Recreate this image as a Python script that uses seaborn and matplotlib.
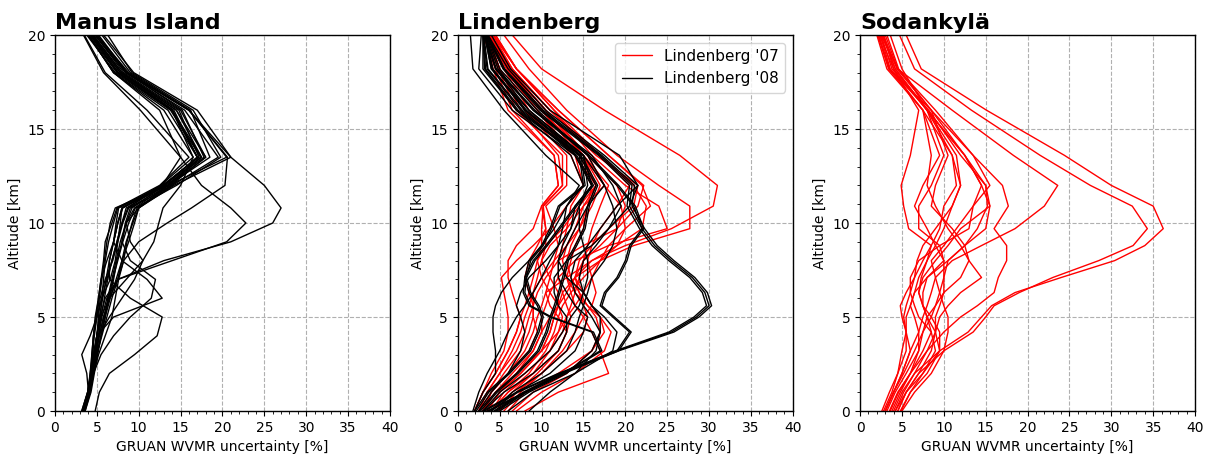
import matplotlib
matplotlib.use("Agg")
import matplotlib.pyplot as plt
import pandas as pd
import seaborn as sns
from matplotlib.ticker import MultipleLocator
from matplotlib.lines import Line2D

# ---------------------------------------------------------------------------
# Altitude levels [km] at which each uncertainty profile is given
# ---------------------------------------------------------------------------
alt_manus = [0, 1, 2, 3, 4, 5, 6, 7, 8, 9, 10, 10.8, 12, 13.5, 16, 18, 20]
alt_std = [0, 1, 2, 3.2, 4.2, 5, 5.6, 6.3, 7.1, 8, 8.8, 9.7, 10.9, 12, 13.6, 16, 18.2, 20]

# GRUAN water-vapour mixing-ratio uncertainty [%] per sounding
manus_profiles = [
    [3.2, 3.9, 4.2, 4.5, 4.6, 4.8, 5.2, 5.5, 5.8, 6.0, 6.8, 7.4, 12.5, 16.0, 11.0, 6.0, 3.5],
    [3.3, 4.0, 4.5, 5.0, 5.5, 6.0, 6.3, 6.8, 7.3, 7.8, 8.5, 9.2, 13.0, 17.0, 13.5, 7.0, 4.0],
    [3.4, 4.1, 4.3, 4.4, 4.6, 5.0, 5.6, 6.6, 7.2, 7.5, 7.8, 8.0, 13.5, 17.5, 14.0, 7.5, 4.2],
    [3.5, 4.1, 4.6, 5.2, 6.0, 6.8, 7.2, 7.6, 8.2, 8.6, 9.2, 9.8, 13.8, 18.0, 14.5, 7.8, 4.4],
    [3.3, 4.0, 4.2, 4.4, 4.6, 4.9, 5.2, 5.5, 6.2, 7.0, 7.3, 7.6, 12.8, 17.2, 14.8, 8.0, 4.6],
    [3.6, 4.2, 4.5, 4.8, 5.3, 5.8, 6.5, 7.0, 7.4, 8.0, 8.4, 9.0, 14.0, 19.5, 15.5, 8.4, 4.8],
    [3.4, 4.1, 4.4, 4.8, 5.0, 5.2, 5.4, 6.0, 6.9, 7.5, 8.1, 8.8, 13.6, 20.5, 16.0, 8.8, 5.0],
    [3.5, 4.2, 4.6, 5.0, 5.6, 6.2, 6.8, 7.5, 8.0, 8.5, 9.3, 10.0, 14.2, 21.0, 17.0, 9.4, 5.8],
    [3.3, 4.0, 4.4, 4.7, 5.0, 5.4, 5.6, 5.8, 6.0, 6.4, 7.0, 7.5, 13.2, 17.8, 15.2, 8.6, 5.2],
    [3.4, 4.1, 4.5, 5.0, 5.5, 6.0, 6.6, 7.3, 8.0, 8.8, 9.5, 10.0, 13.5, 18.5, 16.2, 9.0, 5.6],
    [3.2, 3.9, 4.3, 4.6, 5.0, 5.3, 5.7, 6.1, 6.5, 7.0, 7.5, 8.1, 12.6, 16.5, 14.0, 7.6, 4.3],
    [3.6, 4.3, 4.7, 5.1, 5.5, 5.9, 6.4, 6.9, 7.5, 8.1, 8.8, 9.6, 14.5, 19.8, 16.5, 9.2, 6.3],
    [3.3, 4.0, 4.3, 4.5, 4.7, 5.0, 5.3, 5.6, 5.9, 6.2, 6.6, 7.2, 13.4, 17.4, 13.8, 7.2, 3.8],
    [3.5, 4.2, 4.5, 4.8, 5.2, 5.5, 5.9, 6.3, 6.8, 7.4, 8.0, 8.7, 12.8, 15.0, 10.2, 5.8, 3.4],
    [3.3, 4.0, 4.4, 4.7, 5.0, 5.4, 6.0, 7.5, 13.0, 21.0, 26.0, 27.0, 25.0, 21.0, 16.0, 8.5, 4.8],
    [3.4, 4.1, 4.5, 4.9, 5.2, 5.6, 6.2, 7.5, 14.0, 20.5, 22.8, 21.0, 17.5, 15.0, 12.5, 7.0, 4.0],
    [3.4, 4.0, 4.4, 4.7, 5.0, 5.5, 6.5, 7.5, 8.2, 10.0, 13.4, 16.3, 20.3, 20.6, 16.0, 8.6, 5.0],
    [3.5, 4.1, 4.5, 4.9, 5.3, 5.8, 6.5, 8.5, 10.5, 11.8, 12.4, 12.9, 15.0, 16.5, 13.0, 7.0, 4.0],
    [3.3, 4.0, 4.3, 4.6, 5.0, 7.0, 12.8, 11.0, 8.0, 7.0, 7.5, 8.0, 13.0, 17.0, 14.0, 7.5, 4.2],
    [4.8, 5.3, 6.5, 9.5, 12.2, 12.8, 9.0, 6.5, 6.5, 7.0, 7.5, 8.0, 13.0, 17.5, 14.5, 8.0, 4.5],
    [3.5, 4.0, 3.8, 3.2, 4.2, 5.0, 5.6, 6.2, 6.8, 7.4, 8.0, 8.5, 13.0, 17.0, 14.0, 7.4, 4.0],
    [3.4, 4.1, 4.6, 5.5, 7.0, 9.0, 11.5, 12.0, 9.0, 8.0, 8.5, 9.5, 13.5, 18.0, 15.0, 8.2, 4.8],
    [3.3, 3.9, 4.3, 4.7, 5.2, 6.5, 8.0, 9.5, 10.5, 9.0, 8.5, 10.0, 14.0, 17.0, 14.2, 7.8, 4.4],
]

lind07_profiles = [
    [4.0, 6.0, 9.0, 12.0, 13.0, 12.0, 11.0, 10.5, 13.0, 16.0, 20.0, 25.5, 30.5, 31.0, 26.5, 17.5, 10.0, 6.5],
    [3.5, 5.0, 7.5, 10.0, 11.0, 11.5, 12.0, 12.5, 14.0, 17.0, 21.0, 27.7, 27.7, 24.0, 19.0, 13.0, 8.5, 5.5],
    [3.0, 4.5, 6.5, 9.0, 10.0, 10.0, 10.5, 11.0, 12.0, 14.0, 18.0, 25.0, 24.0, 20.0, 16.0, 11.5, 7.0, 4.5],
    [2.5, 4.0, 6.0, 8.5, 9.5, 9.0, 9.0, 9.5, 10.5, 12.0, 15.0, 19.0, 21.5, 22.2, 18.0, 12.0, 7.0, 4.2],
    [3.0, 4.5, 7.0, 10.0, 11.0, 11.5, 12.0, 13.0, 14.0, 16.0, 19.0, 22.0, 22.5, 21.0, 17.0, 11.0, 6.5, 4.0],
    [2.0, 3.0, 4.5, 6.0, 7.0, 7.5, 8.0, 8.5, 9.0, 9.5, 10.0, 10.0, 10.2, 12.5, 12.0, 7.5, 5.0, 3.5],
    [2.5, 3.5, 5.0, 7.0, 8.0, 8.5, 9.0, 9.0, 9.5, 10.0, 10.5, 10.5, 10.0, 12.0, 11.5, 6.5, 4.5, 3.0],
    [3.0, 4.0, 6.0, 8.0, 9.0, 9.5, 10.0, 10.5, 11.0, 11.5, 12.0, 11.5, 10.5, 13.0, 13.0, 8.0, 5.0, 3.5],
    [4.0, 5.5, 8.0, 11.0, 12.5, 13.0, 13.5, 14.0, 14.5, 15.0, 15.5, 16.0, 17.0, 18.0, 15.0, 10.0, 6.0, 3.8],
    [5.0, 7.0, 10.0, 13.0, 15.0, 15.5, 15.0, 14.5, 14.0, 15.0, 17.0, 19.0, 20.0, 19.0, 15.5, 10.5, 6.2, 4.0],
    [6.0, 8.0, 12.0, 16.0, 17.5, 17.0, 16.0, 15.0, 14.0, 14.5, 16.0, 18.0, 21.0, 21.5, 16.5, 11.0, 6.5, 4.2],
    [2.0, 3.0, 4.0, 5.5, 6.0, 6.0, 5.8, 5.5, 5.2, 7.0, 9.0, 11.0, 13.0, 15.0, 14.0, 8.5, 5.5, 3.8],
    [7.0, 10.0, 14.0, 17.5, 18.3, 17.0, 15.5, 14.0, 13.0, 13.5, 14.0, 15.0, 15.5, 16.0, 14.0, 9.5, 5.5, 3.5],
    [8.0, 12.0, 18.0, 17.0, 16.0, 15.0, 14.0, 13.5, 13.0, 12.5, 13.0, 14.0, 15.0, 16.5, 14.5, 10.0, 5.8, 3.6],
    [3.5, 5.0, 7.0, 9.0, 10.0, 11.0, 12.0, 12.0, 11.0, 10.0, 11.0, 13.0, 15.0, 17.5, 15.5, 10.5, 6.0, 3.7],
    [4.5, 6.5, 9.0, 11.0, 12.0, 12.5, 12.0, 11.0, 10.0, 9.5, 10.5, 12.5, 14.5, 16.5, 15.0, 10.0, 6.0, 3.6],
    [5.5, 7.5, 10.0, 12.5, 14.0, 15.0, 16.0, 16.5, 16.0, 15.5, 16.0, 17.0, 19.0, 20.5, 17.0, 11.5, 7.0, 4.3],
    [2.5, 3.5, 5.0, 6.5, 7.5, 8.0, 8.5, 9.0, 10.0, 11.5, 13.0, 14.5, 15.5, 16.5, 14.0, 8.0, 5.0, 3.5],
    [3.0, 4.0, 5.5, 7.5, 8.5, 9.0, 9.0, 8.5, 8.0, 8.5, 9.5, 10.5, 10.2, 12.5, 12.5, 7.0, 4.8, 3.3],
    [4.0, 6.0, 8.5, 10.5, 11.5, 12.0, 12.5, 13.5, 15.0, 17.0, 19.0, 20.0, 23.0, 22.0, 18.0, 12.0, 7.0, 4.5],
    [6.5, 9.0, 13.0, 16.0, 17.0, 16.5, 15.5, 14.5, 13.5, 13.0, 13.5, 14.5, 16.0, 17.0, 15.0, 10.0, 6.0, 3.8],
    [2.0, 3.0, 4.5, 6.0, 7.0, 7.5, 7.0, 6.5, 6.0, 6.0, 7.0, 9.0, 10.0, 12.0, 11.5, 6.0, 4.2, 3.2],
    [3.5, 5.0, 7.5, 10.0, 12.0, 13.0, 14.0, 15.0, 16.0, 17.0, 18.0, 20.0, 19.5, 17.5, 15.0, 10.5, 6.2, 3.9],
    [5.0, 7.0, 9.5, 12.0, 13.0, 13.5, 13.0, 12.5, 12.0, 12.0, 12.5, 13.0, 13.5, 15.0, 13.5, 9.5, 5.5, 3.4],
]

lind08_profiles = [
    [4.5, 8.0, 12.5, 19.0, 25.5, 28.5, 30.0, 29.5, 28.0, 25.5, 23.5, 22.0, 20.5, 20.8, 17.0, 10.0, 5.5, 3.5],
    [4.3, 7.8, 12.3, 18.8, 25.2, 28.2, 29.7, 29.2, 27.7, 25.2, 23.2, 21.7, 20.2, 20.5, 16.8, 9.8, 5.4, 3.4],
    [4.7, 8.2, 12.7, 19.2, 25.8, 28.8, 30.3, 29.8, 28.3, 25.8, 23.8, 22.3, 20.8, 21.1, 17.2, 10.2, 5.6, 3.6],
    [3.0, 7.0, 12.0, 19.0, 20.5, 18.5, 17.0, 17.5, 19.0, 20.0, 20.5, 22.0, 21.0, 19.0, 15.5, 9.0, 4.5, 3.2],
    [3.2, 7.2, 12.2, 19.2, 20.7, 18.7, 17.2, 17.7, 19.2, 20.2, 20.7, 22.2, 21.2, 19.2, 15.7, 9.2, 4.6, 3.3],
    [3.5, 8.0, 12.5, 17.0, 16.0, 11.0, 8.5, 7.8, 8.0, 9.0, 10.5, 12.0, 14.0, 16.0, 14.0, 7.5, 3.5, 3.0],
    [3.7, 8.2, 12.7, 17.2, 16.2, 11.2, 8.7, 8.0, 8.2, 9.2, 10.7, 12.2, 14.2, 16.2, 14.2, 7.7, 3.6, 3.1],
    [2.0, 3.0, 4.5, 4.5, 4.2, 4.2, 4.5, 5.2, 6.5, 8.5, 10.0, 11.5, 13.0, 15.0, 13.5, 7.0, 3.0, 3.0],
    [2.5, 4.5, 7.0, 9.5, 10.5, 11.0, 11.5, 12.0, 12.5, 13.0, 14.0, 15.0, 15.5, 16.5, 14.5, 8.0, 4.0, 3.2],
    [2.7, 4.7, 7.2, 9.7, 10.7, 11.2, 11.7, 12.2, 12.7, 13.2, 14.2, 15.2, 15.7, 16.7, 14.7, 8.2, 4.1, 3.3],
    [3.0, 5.0, 8.0, 11.0, 12.5, 13.5, 14.5, 15.0, 15.5, 15.5, 15.0, 14.5, 14.5, 15.5, 15.0, 8.5, 4.5, 3.3],
    [2.0, 3.5, 6.0, 8.5, 9.5, 10.0, 9.5, 8.5, 8.0, 8.5, 10.0, 11.0, 12.0, 15.0, 14.5, 7.0, 3.2, 3.0],
    [2.2, 3.7, 6.2, 8.7, 9.7, 10.2, 9.7, 8.7, 8.2, 8.7, 10.2, 11.2, 12.2, 15.2, 14.7, 7.2, 3.3, 3.1],
    [4.0, 7.0, 11.0, 14.0, 15.0, 15.5, 14.0, 13.0, 12.0, 12.0, 13.0, 14.0, 15.5, 17.5, 15.5, 9.5, 5.0, 3.5],
    [2.5, 4.0, 6.0, 7.5, 8.0, 7.5, 7.0, 7.5, 8.5, 10.5, 12.0, 13.5, 14.0, 16.0, 15.0, 8.0, 4.2, 3.3],
    [5.0, 8.5, 13.0, 16.0, 17.0, 17.0, 16.0, 15.0, 13.0, 12.0, 12.5, 13.5, 14.5, 16.0, 14.0, 6.5, 2.5, 2.8],
    [3.0, 5.5, 9.0, 12.0, 13.0, 13.0, 12.0, 11.5, 11.5, 13.0, 16.0, 18.0, 20.5, 21.5, 17.5, 10.5, 6.0, 3.6],
    [6.0, 9.0, 14.0, 18.5, 19.0, 17.5, 16.0, 15.0, 14.5, 15.0, 16.5, 18.0, 19.5, 18.5, 16.0, 9.0, 4.8, 3.4],
    [1.8, 2.5, 3.5, 5.0, 6.0, 7.0, 8.0, 9.0, 10.0, 11.0, 12.0, 12.5, 13.0, 14.5, 10.5, 5.5, 1.8, 1.5],
    [4.0, 6.5, 10.0, 13.0, 14.0, 14.5, 15.0, 15.5, 16.0, 17.5, 18.5, 19.0, 18.5, 17.5, 15.0, 8.5, 4.0, 3.2],
    [8.5, 11.0, 14.0, 16.5, 17.0, 16.0, 15.0, 14.0, 13.5, 14.0, 15.5, 17.0, 19.0, 21.5, 19.3, 11.0, 6.3, 4.0],
]

sod_profiles = [
    [4.9, 6.0, 7.5, 9.5, 12.9, 14.5, 15.7, 18.5, 24.0, 30.4, 34.0, 36.2, 35.0, 30.0, 24.4, 15.1, 7.3, 5.5],
    [4.5, 5.5, 7.0, 10.0, 13.5, 15.0, 16.0, 19.0, 23.0, 28.5, 32.6, 34.3, 32.5, 27.5, 21.5, 13.3, 6.5, 4.7],
    [3.0, 4.0, 5.0, 6.0, 7.0, 7.5, 8.0, 8.5, 9.0, 11.0, 14.5, 18.5, 22.0, 23.6, 18.3, 11.0, 4.5, 2.5],
    [3.5, 4.5, 6.0, 8.0, 10.0, 12.0, 14.0, 16.0, 16.5, 17.5, 17.5, 16.0, 17.7, 17.0, 13.5, 8.5, 3.5, 2.2],
    [4.0, 5.0, 6.5, 9.5, 9.5, 8.5, 7.5, 7.0, 7.5, 9.0, 10.5, 12.0, 15.5, 15.0, 12.5, 8.0, 3.8, 2.5],
    [3.0, 4.0, 5.0, 6.0, 5.5, 5.0, 4.8, 5.5, 6.5, 7.5, 8.5, 9.5, 10.0, 11.5, 11.0, 7.5, 3.2, 2.0],
    [2.8, 3.8, 4.5, 5.0, 5.5, 5.5, 6.0, 6.5, 7.0, 8.0, 8.5, 5.8, 5.2, 4.9, 6.0, 7.0, 4.0, 2.3],
    [4.5, 5.5, 7.0, 8.5, 9.0, 9.0, 9.5, 10.0, 10.0, 10.0, 9.5, 7.0, 7.0, 8.5, 10.0, 8.0, 4.2, 2.6],
    [5.0, 6.5, 8.5, 10.0, 10.5, 10.5, 10.0, 9.5, 9.0, 8.5, 10.0, 11.5, 13.5, 15.5, 13.5, 9.0, 4.5, 3.0],
    [3.2, 4.2, 5.5, 7.0, 7.0, 6.5, 6.0, 6.5, 8.0, 10.5, 12.5, 14.0, 15.2, 15.0, 12.0, 8.2, 3.5, 2.2],
    [2.6, 3.5, 4.5, 5.5, 5.5, 5.2, 5.5, 6.0, 6.5, 6.8, 7.5, 9.0, 11.0, 12.0, 11.5, 8.0, 4.0, 2.8],
    [4.2, 5.2, 6.5, 8.0, 9.0, 9.5, 10.5, 12.0, 14.5, 13.0, 12.0, 10.5, 9.0, 8.0, 8.5, 7.5, 3.6, 2.4],
    [3.8, 4.8, 6.0, 7.0, 7.5, 8.0, 9.0, 10.0, 12.0, 13.0, 12.5, 11.0, 8.5, 9.0, 10.5, 8.5, 4.6, 3.2],
    [4.8, 6.0, 8.0, 9.5, 9.0, 8.0, 7.5, 7.0, 7.3, 8.0, 9.0, 10.0, 11.0, 12.0, 11.0, 8.0, 5.0, 3.6],
    [3.0, 4.0, 5.2, 6.5, 7.5, 8.5, 9.0, 9.5, 10.0, 10.5, 12.5, 15.0, 15.5, 14.5, 12.5, 8.0, 4.2, 2.7],
    [3.6, 4.6, 6.0, 7.5, 8.5, 8.0, 7.5, 7.5, 8.0, 10.0, 9.0, 8.0, 6.5, 7.5, 9.5, 7.5, 3.4, 2.1],
    [4.2, 5.5, 7.5, 9.0, 8.5, 7.0, 6.5, 6.0, 6.0, 7.0, 9.5, 13.0, 13.5, 14.5, 12.5, 8.5, 4.4, 2.8],
]

station_titles = ["Manus Island", "Lindenberg", "Sodankylä"]
series_labels = ["Lindenberg '07", "Lindenberg '08"]


def long_frame(alts, profiles):
    rows = []
    for pid, prof in enumerate(profiles):
        assert len(prof) == len(alts)
        for z, u in zip(alts, prof):
            rows.append((pid, z, u))
    return pd.DataFrame(rows, columns=["profile", "alt", "unc"])


def draw_profiles(ax, frame, color):
    sns.lineplot(data=frame, x="unc", y="alt", units="profile", estimator=None,
                 sort=False, color=color, lw=1.0, ax=ax, legend=False)


sns.set_style("ticks")
plt.rcParams.update({
    "font.family": ["DejaVu Sans"],
    "text.color": "black",
    "axes.labelcolor": "black",
    "xtick.color": "black",
    "ytick.color": "black",
    "axes.edgecolor": "black",
})

fig = plt.figure(figsize=(12.08, 4.55), dpi=100)
lefts = [0.0455, 0.379, 0.712]
axes = [fig.add_axes([l, 0.0967, 0.2773, 0.8263]) for l in lefts]

draw_profiles(axes[0], long_frame(alt_manus, manus_profiles), "black")
draw_profiles(axes[1], long_frame(alt_std, lind07_profiles), "red")
draw_profiles(axes[1], long_frame(alt_std, lind08_profiles), "black")
draw_profiles(axes[2], long_frame(alt_std, sod_profiles), "red")

for ax, title in zip(axes, station_titles):
    ax.set_xlim(0, 40)
    ax.set_ylim(0, 20)
    ax.xaxis.set_major_locator(MultipleLocator(5))
    ax.xaxis.set_minor_locator(MultipleLocator(1))
    ax.yaxis.set_major_locator(MultipleLocator(5))
    ax.yaxis.set_minor_locator(MultipleLocator(1))
    ax.grid(True, which="major", ls="--", color="#b0b0b0", lw=0.8)
    ax.set_axisbelow(True)
    ax.tick_params(labelsize=10, colors="black")
    for sp in ax.spines.values():
        sp.set_visible(True)
        sp.set_color("black")
        sp.set_linewidth(1.0)
    ax.set_xlabel("GRUAN WVMR uncertainty [%]", fontsize=10, color="black")
    ax.set_ylabel("Altitude [km]", fontsize=10, color="black")
    ax.set_title(title, loc="left", fontsize=16, fontweight="bold", pad=4,
                 color="black")

handles = [Line2D([], [], color="red", lw=1.0),
           Line2D([], [], color="black", lw=1.0)]
axes[1].legend(handles, series_labels, loc="upper right", fontsize=11,
               frameon=True, framealpha=0.8)

fig.savefig("out.png", dpi=100)
